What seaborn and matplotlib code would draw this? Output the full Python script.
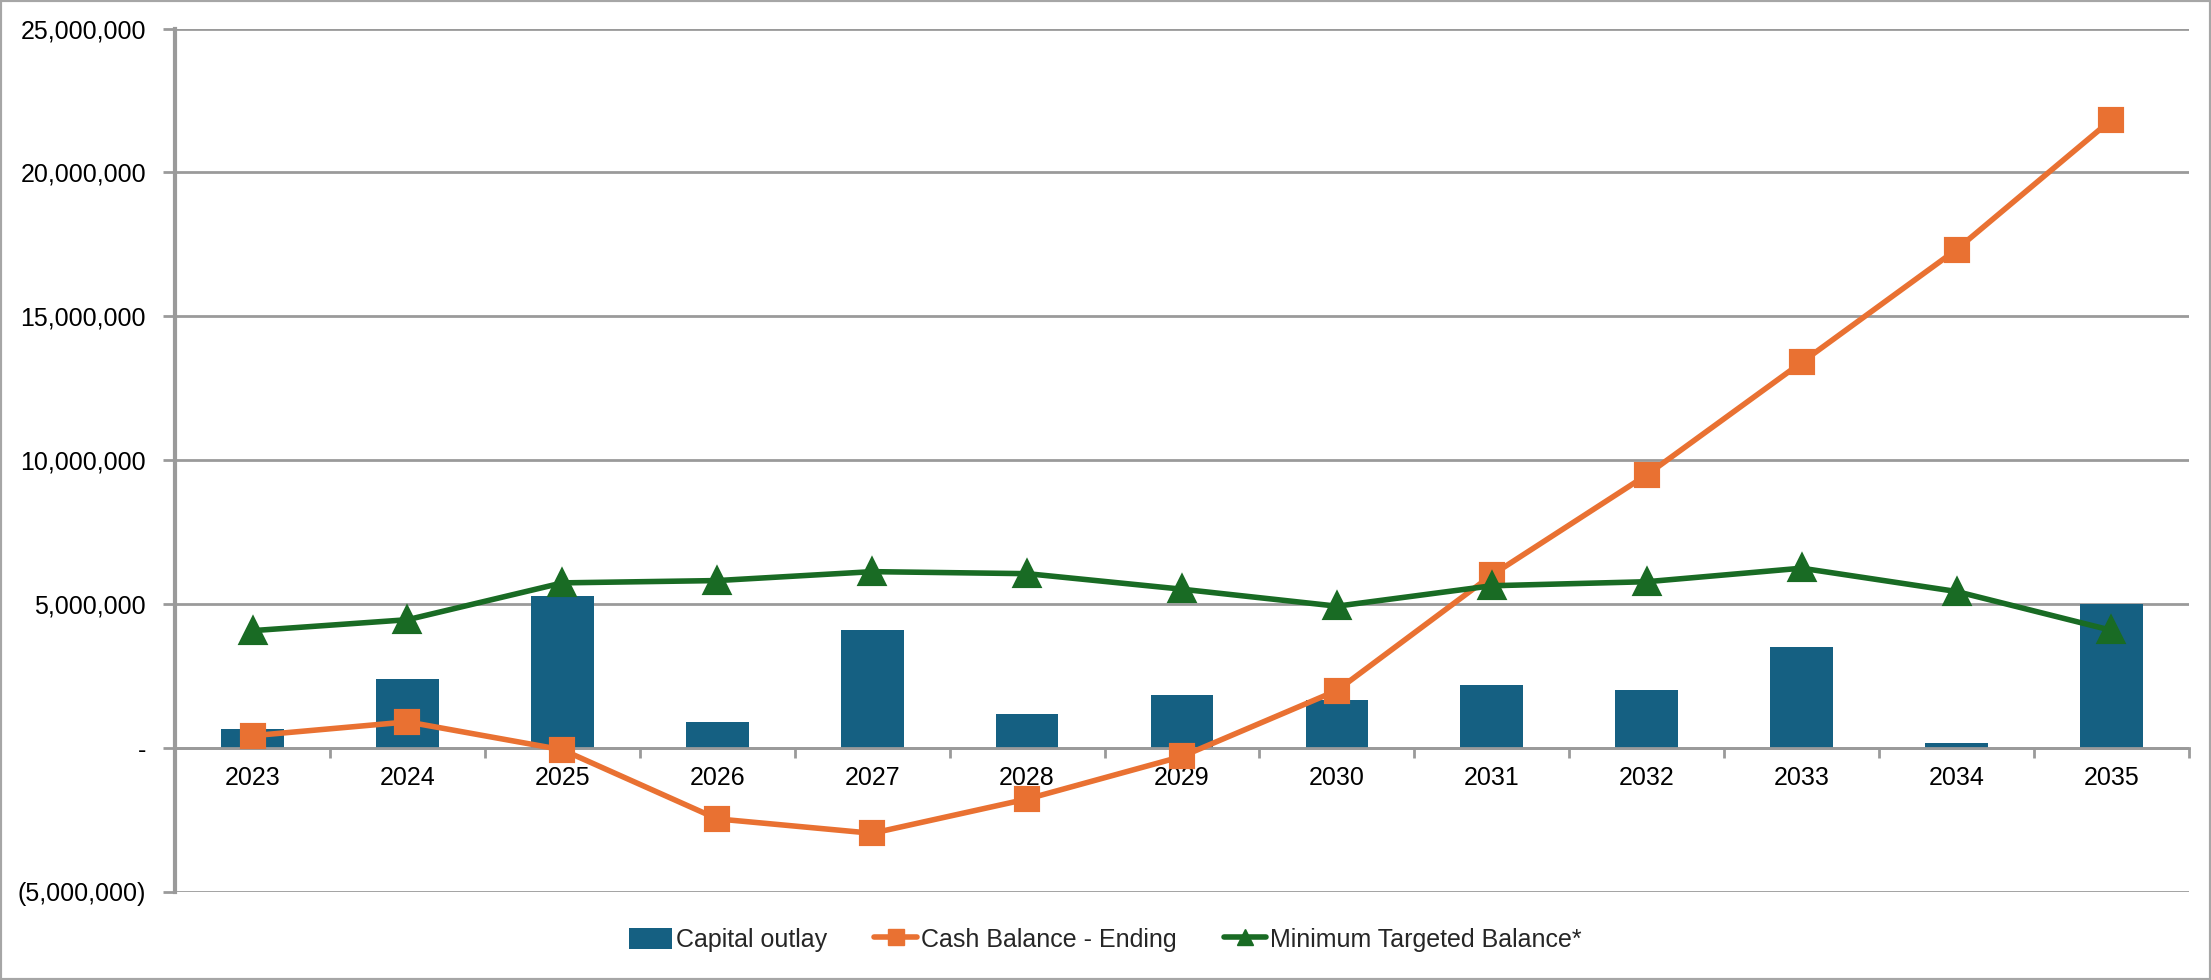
import numpy as np
import pandas as pd
import matplotlib
matplotlib.use("Agg")
import matplotlib.pyplot as plt
import seaborn as sns
from matplotlib.patches import Patch, Rectangle
from matplotlib.lines import Line2D
from matplotlib.ticker import FuncFormatter, MultipleLocator

# ---- data ----
years = [str(y) for y in range(2023, 2036)]
capital_outlay = [680000, 2400000, 5300000, 920000, 4090000, 1190000, 1830000,
                  1680000, 2180000, 2030000, 3500000, 160000, 5020000]
cash_balance_ending = [430000, 910000, -60000, -2460000, -2960000, -1770000, -290000,
                       2000000, 6010000, 9490000, 13400000, 17320000, 21830000]
minimum_targeted_balance = [4080000, 4460000, 5740000, 5820000, 6130000, 6060000, 5520000,
                            4930000, 5640000, 5780000, 6250000, 5440000, 4090000]
labels = ["Capital outlay", "Cash Balance - Ending", "Minimum Targeted Balance*"]

df = pd.DataFrame({"Year": years, "Capital": capital_outlay,
                   "Cash": cash_balance_ending, "Min": minimum_targeted_balance})

BLUE = "#156082"
ORANGE = "#E97132"
GREEN = "#196B24"
GRID = "#9A9A9A"

sns.set_style("white")
plt.rcParams["font.family"] = ["Liberation Sans", "DejaVu Sans"]

fig = plt.figure(figsize=(22.11, 9.8), dpi=100)
ax = fig.add_axes([0.0792, 0.0898, 0.9108, 0.8811])

sns.barplot(data=df, x="Year", y="Capital", color=BLUE, saturation=1, width=0.405,
            ax=ax, zorder=2, linewidth=0)
sns.pointplot(data=df, x="Year", y="Cash", color=ORANGE, marker="s", markersize=16,
              linewidth=4, errorbar=None, ax=ax, zorder=4)
sns.pointplot(data=df, x="Year", y="Min", color=GREEN, marker="^", markersize=17,
              linewidth=4, errorbar=None, ax=ax, zorder=5)

ax.set_xlim(-0.5, len(years) - 0.5)
ax.set_ylim(-5_000_000, 25_000_000)
ax.yaxis.set_major_locator(MultipleLocator(5_000_000))


def fmt(v, pos):
    if abs(v) < 1:
        return "-"
    if v < 0:
        return "({:,.0f})".format(-v)
    return "{:,.0f}".format(v)


ax.yaxis.set_major_formatter(FuncFormatter(fmt))
ax.set_xlabel("")
ax.set_ylabel("")

ax.yaxis.grid(True, color=GRID, linewidth=2, zorder=0)
ax.xaxis.grid(False)
ax.set_axisbelow(True)

for s in ["top", "right"]:
    ax.spines[s].set_visible(False)
ax.spines["left"].set_color(GRID)
ax.spines["left"].set_linewidth(3)
ax.spines["bottom"].set_position(("data", 0))
ax.spines["bottom"].set_color(GRID)
ax.spines["bottom"].set_linewidth(2)

ax.tick_params(axis="y", length=9, width=2, color=GRID, pad=12, labelsize=18,
               labelcolor="black", left=True)
ax.tick_params(axis="x", which="major", length=0, pad=13, labelsize=18, labelcolor="black")
ax.set_xticks(np.arange(-0.5, len(years), 1), minor=True)
ax.tick_params(axis="x", which="minor", length=7, width=2, color=GRID, direction="out",
               bottom=True)

handles = [
    Patch(facecolor=BLUE, edgecolor="none"),
    Line2D([], [], color=ORANGE, lw=4, marker="s", markersize=12),
    Line2D([], [], color=GREEN, lw=4, marker="^", markersize=12),
]
fig.legend(handles, labels, loc="center", bbox_to_anchor=(0.5, 0.041), ncol=3,
           frameon=False, handlelength=1.7, handleheight=0.9, columnspacing=1.9,
           handletextpad=0.15, prop={"family": ["Liberation Sans Narrow", "Liberation Sans"], "size": 18})

fig.patches.append(Rectangle((0, 0), 1, 1, transform=fig.transFigure, fill=False,
                             edgecolor="#A6A6A6", linewidth=3))

fig.savefig("out.png", dpi=100, facecolor="white")
